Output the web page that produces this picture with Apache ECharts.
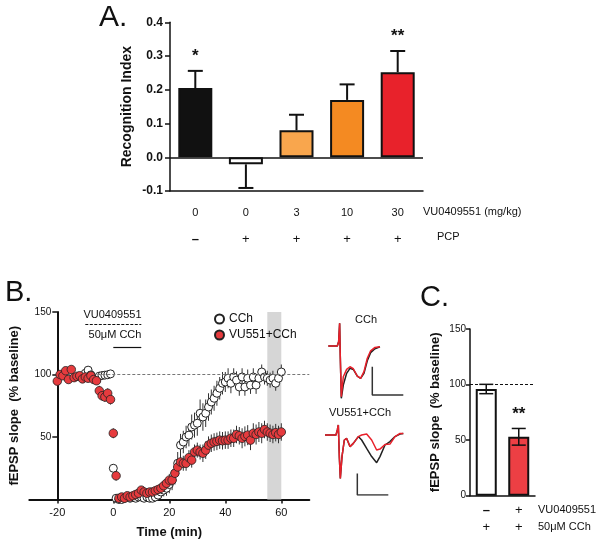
<!DOCTYPE html>
<html><head><meta charset="utf-8">
<script src="https://cdn.jsdelivr.net/npm/echarts@6/dist/echarts.min.js"></script>
<style>html,body{margin:0;padding:0;background:#fff}#c{width:604px;height:549px}</style>
</head><body><div id="c"></div>
<script>
// ---------- Panel A ----------
const aDose = ['0', '0', '3', '10', '30'];
const aPCP = ['–', '+', '+', '+', '+'];
const aMean = [0.205, -0.021, 0.080, 0.170, 0.252];
const aErr = [0.051, 0.070, 0.046, 0.046, 0.063];
const aSig = ['*', '', '', '', '**'];
const aColors = ['#111111', '#ffffff', '#f9a64d', '#f48a22', '#e8222b'];

// ---------- Panel B ----------
const bTimeCCh = [-10,-9,-8,-7,-6,-5,-4,-3,-2,-1,0,1,2,3,4,5,6,7,8,9,10,11,12,13,14,15,16,17,18,19,20,21,22,23,24,25,26,27,28,29,30,31,32,33,34,35,36,37,38,39,40,41,42,43,44,45,46,47,48,49,50,51,52,53,54,55,56,57,58,59,60];
const bCCh = [101,103.5,99.7,97,95.5,98.7,99.2,99.5,99.8,100.5,25,1,0,0,1,2,1,2,1,2,2,1,2,1,1,2,3.5,6,7.5,9,12,15.5,21,29,43.5,46,50,51.5,58,59.5,61,69,66,69,74,78,81,85,89,93,94,97,93,98,95.5,90,98,90,97,91.5,98,91.5,97,102,98,97,95.5,97,93,97,102];
const bCChErr = [2,2,2,2,2,2,2,2,2,2,3,1.5,1.5,1.5,1.5,1.5,1.5,1.5,1.5,1.5,2,2,2,2,2,2,3,4,5,6,7,8,9,9,9,9,9,9,10,10,10,11,11,11,11,10,10,10,9,9,8,8,8,7,7,7,7,7,7,7,7,7,7,6,6,6,6,6,6,6,6];
const bTimeVU = [-20,-19,-18,-17,-16,-15,-14,-13,-12,-11,-10,-9,-8,-7,-6,-5,-4,-3,-2,-1,0,1,2,3,4,5,6,7,8,9,10,11,12,13,14,15,16,17,18,19,20,21,22,23,24,25,26,27,28,29,30,31,32,33,34,35,36,37,38,39,40,41,42,43,44,45,46,47,48,49,50,51,52,53,54,55,56,57,58,59,60];
const bVU = [94.7,100,99,103,96,104,97.5,98.5,99,96.5,98,97,99,96,95,87,83,82,85,80,53,19,1,2,1,3,2,3,4,5,7.5,6,5,6,6,7,8,9,11,13,15.5,15.5,21,26,30,29,29,33.5,31.5,38,39.5,38,37,39.5,43.5,45,46,46.5,47.5,47,47.5,47.5,49,49,52,51,49,50.5,51.5,47.5,53,52,54,53,56,54,53,52,53.5,52,54];
const bVUErr = [3,3,3,3,3,3,3,3,3,3,3,3,3,3,3,4,4,4,4,4,4,4,2,2,2,2,2,2,2,2,3,3,3,3,3,3,3,3,4,4,5,5,5,5,6,6,6,6,6,6,6,6,7,7,7,7,7,7,7,7,7,7,7,7,7,7,8,8,8,8,8,8,8,8,7,7,7,7,7,7,7];
const bXTicks = [-20, 0, 20, 40, 60];

// ---------- example traces (ms, mV) ----------
const tr1Time = [0,2.7,3.1,3.4,3.6,3.9,4.5,5.5,6.5,7.5,8.7,9.7,10.7,11.7,12.7,14,15.5];
const tr1Black = [0,0,0.19,1.0,-0.47,-2.3,-1.72,-1.2,-0.98,-1.03,-1.32,-1.42,-1.2,-0.65,-0.29,-0.12,-0.03];
const tr1Red = [0,0,0.19,1.0,-0.47,-2.23,-1.35,-1.03,-0.91,-1.0,-1.32,-1.42,-1.13,-0.54,-0.21,-0.06,-0.03];
const tr1Scale = [[13.2,-0.91],[13.2,-2.16],[22.5,-2.16]];
const tr2Time = [0,3.3,3.7,4.0,4.3,4.6,5.1,5.8,6.5,7.5,8.5,10,11,12.5,14,15.5,16.5,18,19.5,21,22.5,23.5];
const tr2Black = [0,0,0.22,0.44,-0.95,-1.91,-0.95,-0.22,-0.15,-0.51,-0.37,-0.07,-0.22,-0.59,-0.95,-1.22,-0.95,-0.44,-0.29,-0.07,0.04,0.07];
const tr2Red = [0,0,0.22,0.44,-0.95,-1.91,-0.95,-0.22,-0.15,-0.51,-0.37,-0.07,0,0.04,-0.22,-0.66,-0.62,-0.42,-0.4,-0.07,0.07,0.07];
const tr2Scale = [[9.7,-1.69],[9.7,-2.64],[19,-2.64]];

// ---------- Panel C ----------
const cRow1 = ['–', '+'];
const cRow2 = ['+', '+'];
const cMean = [96, 53];
const cErr = [4.2, 7.5];
const cSig = ['', '**'];
const cColors = ['#ffffff', '#ec3f44'];

const FF = '"Liberation Sans", Arial, Helvetica, sans-serif';
const K = '#111';

function errA(params, api) {
  const i = api.value(0), m = api.value(1), e = api.value(2);
  const end = m >= 0 ? m + e : m - e;
  const p0 = api.coord([i, m]), p1 = api.coord([i, end]);
  const cap = 7.5;
  const children = [
    {type: 'line', shape: {x1: p0[0], y1: p0[1], x2: p1[0], y2: p1[1]}, style: {stroke: K, lineWidth: 2}},
    {type: 'line', shape: {x1: p1[0] - cap, y1: p1[1], x2: p1[0] + cap, y2: p1[1]}, style: {stroke: K, lineWidth: 2}}
  ];
  const s = aSig[params.dataIndex];
  if (s) children.push({type: 'text', x: p1[0], y: p1[1] - 15, style: {text: s, font: 'bold 17px ' + FF, fill: K, textAlign: 'center', textVerticalAlign: 'middle'}});
  return {type: 'group', children};
}
function errC(params, api) {
  const i = api.value(0), m = api.value(1), e = api.value(2);
  const pt = api.coord([i, m + e]), pb = api.coord([i, m - e]);
  const cap = 7;
  const children = [
    {type: 'line', shape: {x1: pt[0], y1: pt[1], x2: pb[0], y2: pb[1]}, style: {stroke: K, lineWidth: 1.5}},
    {type: 'line', shape: {x1: pt[0] - cap, y1: pt[1], x2: pt[0] + cap, y2: pt[1]}, style: {stroke: K, lineWidth: 1.5}},
    {type: 'line', shape: {x1: pb[0] - cap, y1: pb[1], x2: pb[0] + cap, y2: pb[1]}, style: {stroke: K, lineWidth: 1.5}}
  ];
  const s = cSig[params.dataIndex];
  if (s) children.push({type: 'text', x: pt[0], y: pt[1] - 14, style: {text: s, font: 'bold 17px ' + FF, fill: K, textAlign: 'center', textVerticalAlign: 'middle'}});
  return {type: 'group', children};
}
function errB(params, api) {
  const x = api.value(0), m = api.value(1), e = api.value(2);
  const p1 = api.coord([x, m + e]), p2 = api.coord([x, Math.max(0, m - e)]);
  return {type: 'line', shape: {x1: p1[0], y1: p1[1], x2: p2[0], y2: p2[1]}, style: {stroke: '#333', lineWidth: 1}};
}
const sign = s => (s === '–' ? '{m|–}' : '{q|' + s + '}');

const hiddenVal = (min, max, gi) => ({type: 'value', gridIndex: gi, min, max, show: false, splitLine: {show: false}});
const txt = (x, y, text, size, align, weight) => ({type: 'text', x, y, style: {text, font: (weight || 'normal') + ' ' + size + 'px ' + FF, fill: K, textAlign: align || 'left', textVerticalAlign: 'middle'}});

const option = {
  animation: false,
  textStyle: {fontFamily: FF, color: K},
  grid: [
    {left: 170, top: 22.3, width: 253, height: 168.7},   // A
    {left: 29.3, top: 312, width: 280, height: 187.5},   // B
    {left: 328.3, top: 323.3, width: 75, height: 75},    // trace 1
    {left: 325, top: 425, width: 78.3, height: 70},      // trace 2
    {left: 470, top: 329, width: 65, height: 166.7}      // C
  ],
  xAxis: [
    {type: 'category', gridIndex: 0, data: aDose.map((d, i) => String(i)), boundaryGap: true,
     axisLine: {onZero: false, lineStyle: {color: K, width: 1.5}},
     axisTick: {alignWithLabel: true, interval: 0, length: 5, lineStyle: {color: K, width: 1.5}},
     axisLabel: {interval: 0, margin: 9, formatter: (v, i) => '{d|' + aDose[i] + '}\n' + sign(aPCP[i]),
       rich: {d: {fontSize: 11, lineHeight: 26, color: K, fontFamily: FF},
              m: {fontSize: 13, fontWeight: 'bold', lineHeight: 26, color: K, fontFamily: FF},
              q: {fontSize: 13, lineHeight: 26, color: K, fontFamily: FF}}}},
    {type: 'value', gridIndex: 1, min: -30, max: 70, splitLine: {show: false},
     axisLine: {onZero: false, lineStyle: {color: K, width: 2}},
     axisTick: {customValues: bXTicks, length: 4, lineStyle: {color: K, width: 1.5}},
     axisLabel: {customValues: bXTicks, fontSize: 11, color: K, margin: 8},
     name: 'Time (min)', nameLocation: 'middle', nameGap: 26,
     nameTextStyle: {fontSize: 13, fontWeight: 'bold', color: K}},
    hiddenVal(0, 22.5, 2),
    hiddenVal(0, 23.5, 3),
    {type: 'category', gridIndex: 4, data: cRow1.map((d, i) => String(i)), boundaryGap: true,
     axisLine: {onZero: false, lineStyle: {color: K, width: 1.5}},
     axisTick: {alignWithLabel: true, interval: 0, length: 4, lineStyle: {color: K, width: 1.5}},
     axisLabel: {interval: 0, hideOverlap: false, margin: 6, formatter: (v, i) => sign(cRow1[i]) + '\n' + sign(cRow2[i]),
       rich: {m: {fontSize: 13, fontWeight: 'bold', lineHeight: 17, color: K, fontFamily: FF},
              q: {fontSize: 13, lineHeight: 17, color: K, fontFamily: FF}}}}
  ],
  yAxis: [
    {type: 'value', gridIndex: 0, min: -0.1, max: 0.4, interval: 0.1, splitLine: {show: false},
     axisLine: {show: true, onZero: false, lineStyle: {color: K, width: 1.5}},
     axisTick: {show: true, length: 5, lineStyle: {color: K, width: 1.5}},
     axisLabel: {fontSize: 12, fontWeight: 'bold', color: K, margin: 7, formatter: v => v.toFixed(1)},
     name: 'Recognition Index', nameLocation: 'middle', nameGap: 36, nameRotate: 90,
     nameTextStyle: {fontSize: 14, fontWeight: 'bold', color: K}},
    {type: 'value', gridIndex: 1, min: 0, max: 150, interval: 50, offset: -28, splitLine: {show: false},
     axisLine: {show: true, onZero: false, lineStyle: {color: K, width: 2}},
     axisTick: {show: true, length: 5, lineStyle: {color: K, width: 1.5}},
     axisLabel: {fontSize: 10, color: K, margin: 6, showMinLabel: false},
     name: 'fEPSP slope  (% baseline)', nameLocation: 'middle', nameGap: 36, nameRotate: 90,
     nameTextStyle: {fontSize: 13, fontWeight: 'bold', color: K}},
    hiddenVal(-2.3, 1.0, 2),
    hiddenVal(-2.64, 0.44, 3),
    {type: 'value', gridIndex: 4, min: 0, max: 150, interval: 50, splitLine: {show: false},
     axisLine: {show: true, onZero: false, lineStyle: {color: K, width: 1.5}},
     axisTick: {show: true, length: 4, lineStyle: {color: K, width: 1.5}},
     axisLabel: {fontSize: 10, color: K, margin: 4},
     name: 'fEPSP slope  (% baseline)', nameLocation: 'middle', nameGap: 28, nameRotate: 90,
     nameTextStyle: {fontSize: 13, fontWeight: 'bold', color: K}}
  ],
  legend: {
    data: ['CCh', 'VU551+CCh'], orient: 'vertical', left: 209, top: 307, itemWidth: 9, itemHeight: 9,
    itemGap: 2, selectedMode: false, textStyle: {fontSize: 12, color: K, lineHeight: 14}
  },
  series: [
    // A bars
    {type: 'bar', xAxisIndex: 0, yAxisIndex: 0, barWidth: 34,
     data: aMean.map((v, i) => ({value: v, itemStyle: {color: aColors[i], borderColor: K, borderWidth: 2}})),
     markLine: {silent: true, symbol: 'none', label: {show: false}, lineStyle: {color: K, width: 1.5, type: 'solid'}, data: [{yAxis: 0}]}},
    {type: 'custom', xAxisIndex: 0, yAxisIndex: 0, renderItem: errA, z: 5,
     data: aMean.map((m, i) => [i, m, aErr[i]])},
    // B background markers
    {type: 'scatter', xAxisIndex: 1, yAxisIndex: 1, data: [], z: 1,
     markArea: {silent: true, itemStyle: {color: '#d6d6d6'}, data: [[{xAxis: 55}, {xAxis: 60}]]},
     markLine: {silent: true, symbol: 'none', label: {show: false}, data: [
       [{coord: [-20, 100], lineStyle: {color: '#777', width: 1, type: [3, 2]}}, {coord: [70, 100]}],
       [{coord: [-10, 140], lineStyle: {color: K, width: 1, type: [3, 1.5]}}, {coord: [10, 140]}],
       [{coord: [0, 122], lineStyle: {color: K, width: 1.2, type: 'solid'}}, {coord: [10, 122]}]
     ]}},
    {type: 'custom', xAxisIndex: 1, yAxisIndex: 1, renderItem: errB, z: 2,
     data: bTimeCCh.map((t, i) => [t, bCCh[i], bCChErr[i]])},
    {type: 'scatter', name: 'CCh', xAxisIndex: 1, yAxisIndex: 1, symbol: 'circle', symbolSize: 8, z: 3,
     itemStyle: {color: '#ffffff', borderColor: '#222', borderWidth: 1, opacity: 1},
     data: bTimeCCh.map((t, i) => [t, bCCh[i]])},
    {type: 'custom', xAxisIndex: 1, yAxisIndex: 1, renderItem: errB, z: 4,
     data: bTimeVU.map((t, i) => [t, bVU[i], bVUErr[i]])},
    {type: 'scatter', name: 'VU551+CCh', xAxisIndex: 1, yAxisIndex: 1, symbol: 'circle', symbolSize: 8.5, z: 5,
     itemStyle: {color: '#e63b3e', borderColor: '#222', borderWidth: 0.8, opacity: 1},
     data: bTimeVU.map((t, i) => [t, bVU[i]])},
    // traces
    {type: 'line', xAxisIndex: 2, yAxisIndex: 2, symbol: 'none', lineStyle: {color: '#222', width: 1.5}, data: tr1Time.map((t, i) => [t, tr1Black[i]])},
    {type: 'line', xAxisIndex: 2, yAxisIndex: 2, symbol: 'none', lineStyle: {color: '#e8202a', width: 1.5}, data: tr1Time.map((t, i) => [t, tr1Red[i]])},
    {type: 'line', xAxisIndex: 2, yAxisIndex: 2, symbol: 'none', lineStyle: {color: '#333', width: 1.5}, data: tr1Scale},
    {type: 'line', xAxisIndex: 3, yAxisIndex: 3, symbol: 'none', lineStyle: {color: '#222', width: 1.5}, data: tr2Time.map((t, i) => [t, tr2Black[i]])},
    {type: 'line', xAxisIndex: 3, yAxisIndex: 3, symbol: 'none', lineStyle: {color: '#e8202a', width: 1.5}, data: tr2Time.map((t, i) => [t, tr2Red[i]])},
    {type: 'line', xAxisIndex: 3, yAxisIndex: 3, symbol: 'none', lineStyle: {color: '#333', width: 1.5}, data: tr2Scale},
    // C bars
    {type: 'bar', xAxisIndex: 4, yAxisIndex: 4, barWidth: 21,
     data: cMean.map((v, i) => ({value: v, itemStyle: {color: cColors[i], borderColor: K, borderWidth: 2}})),
     markLine: {silent: true, symbol: 'none', label: {show: false}, lineStyle: {color: K, width: 1, type: [3, 2]}, data: [{yAxis: 100}]}},
    {type: 'custom', xAxisIndex: 4, yAxisIndex: 4, renderItem: errC, z: 5,
     data: cMean.map((m, i) => [i, m, cErr[i]])}
  ],
  graphic: [
    txt(99, 18, 'A.', 30),
    txt(5, 293, 'B.', 29),
    txt(420, 298, 'C.', 29),
    txt(423, 212, 'VU0409551 (mg/kg)', 11),
    txt(437, 237, 'PCP', 11),
    txt(112.5, 315, 'VU0409551', 11, 'center'),
    txt(115, 335, '50μM CCh', 11, 'center'),
    txt(366, 320, 'CCh', 11, 'center'),
    txt(360, 413, 'VU551+CCh', 11, 'center'),
    txt(538, 510, 'VU0409551', 11),
    txt(538, 527, '50μM CCh', 11)
  ]
};
const chart = echarts.init(document.getElementById('c'), null, {renderer: 'canvas'});
chart.setOption(option);
</script>
</body></html>
